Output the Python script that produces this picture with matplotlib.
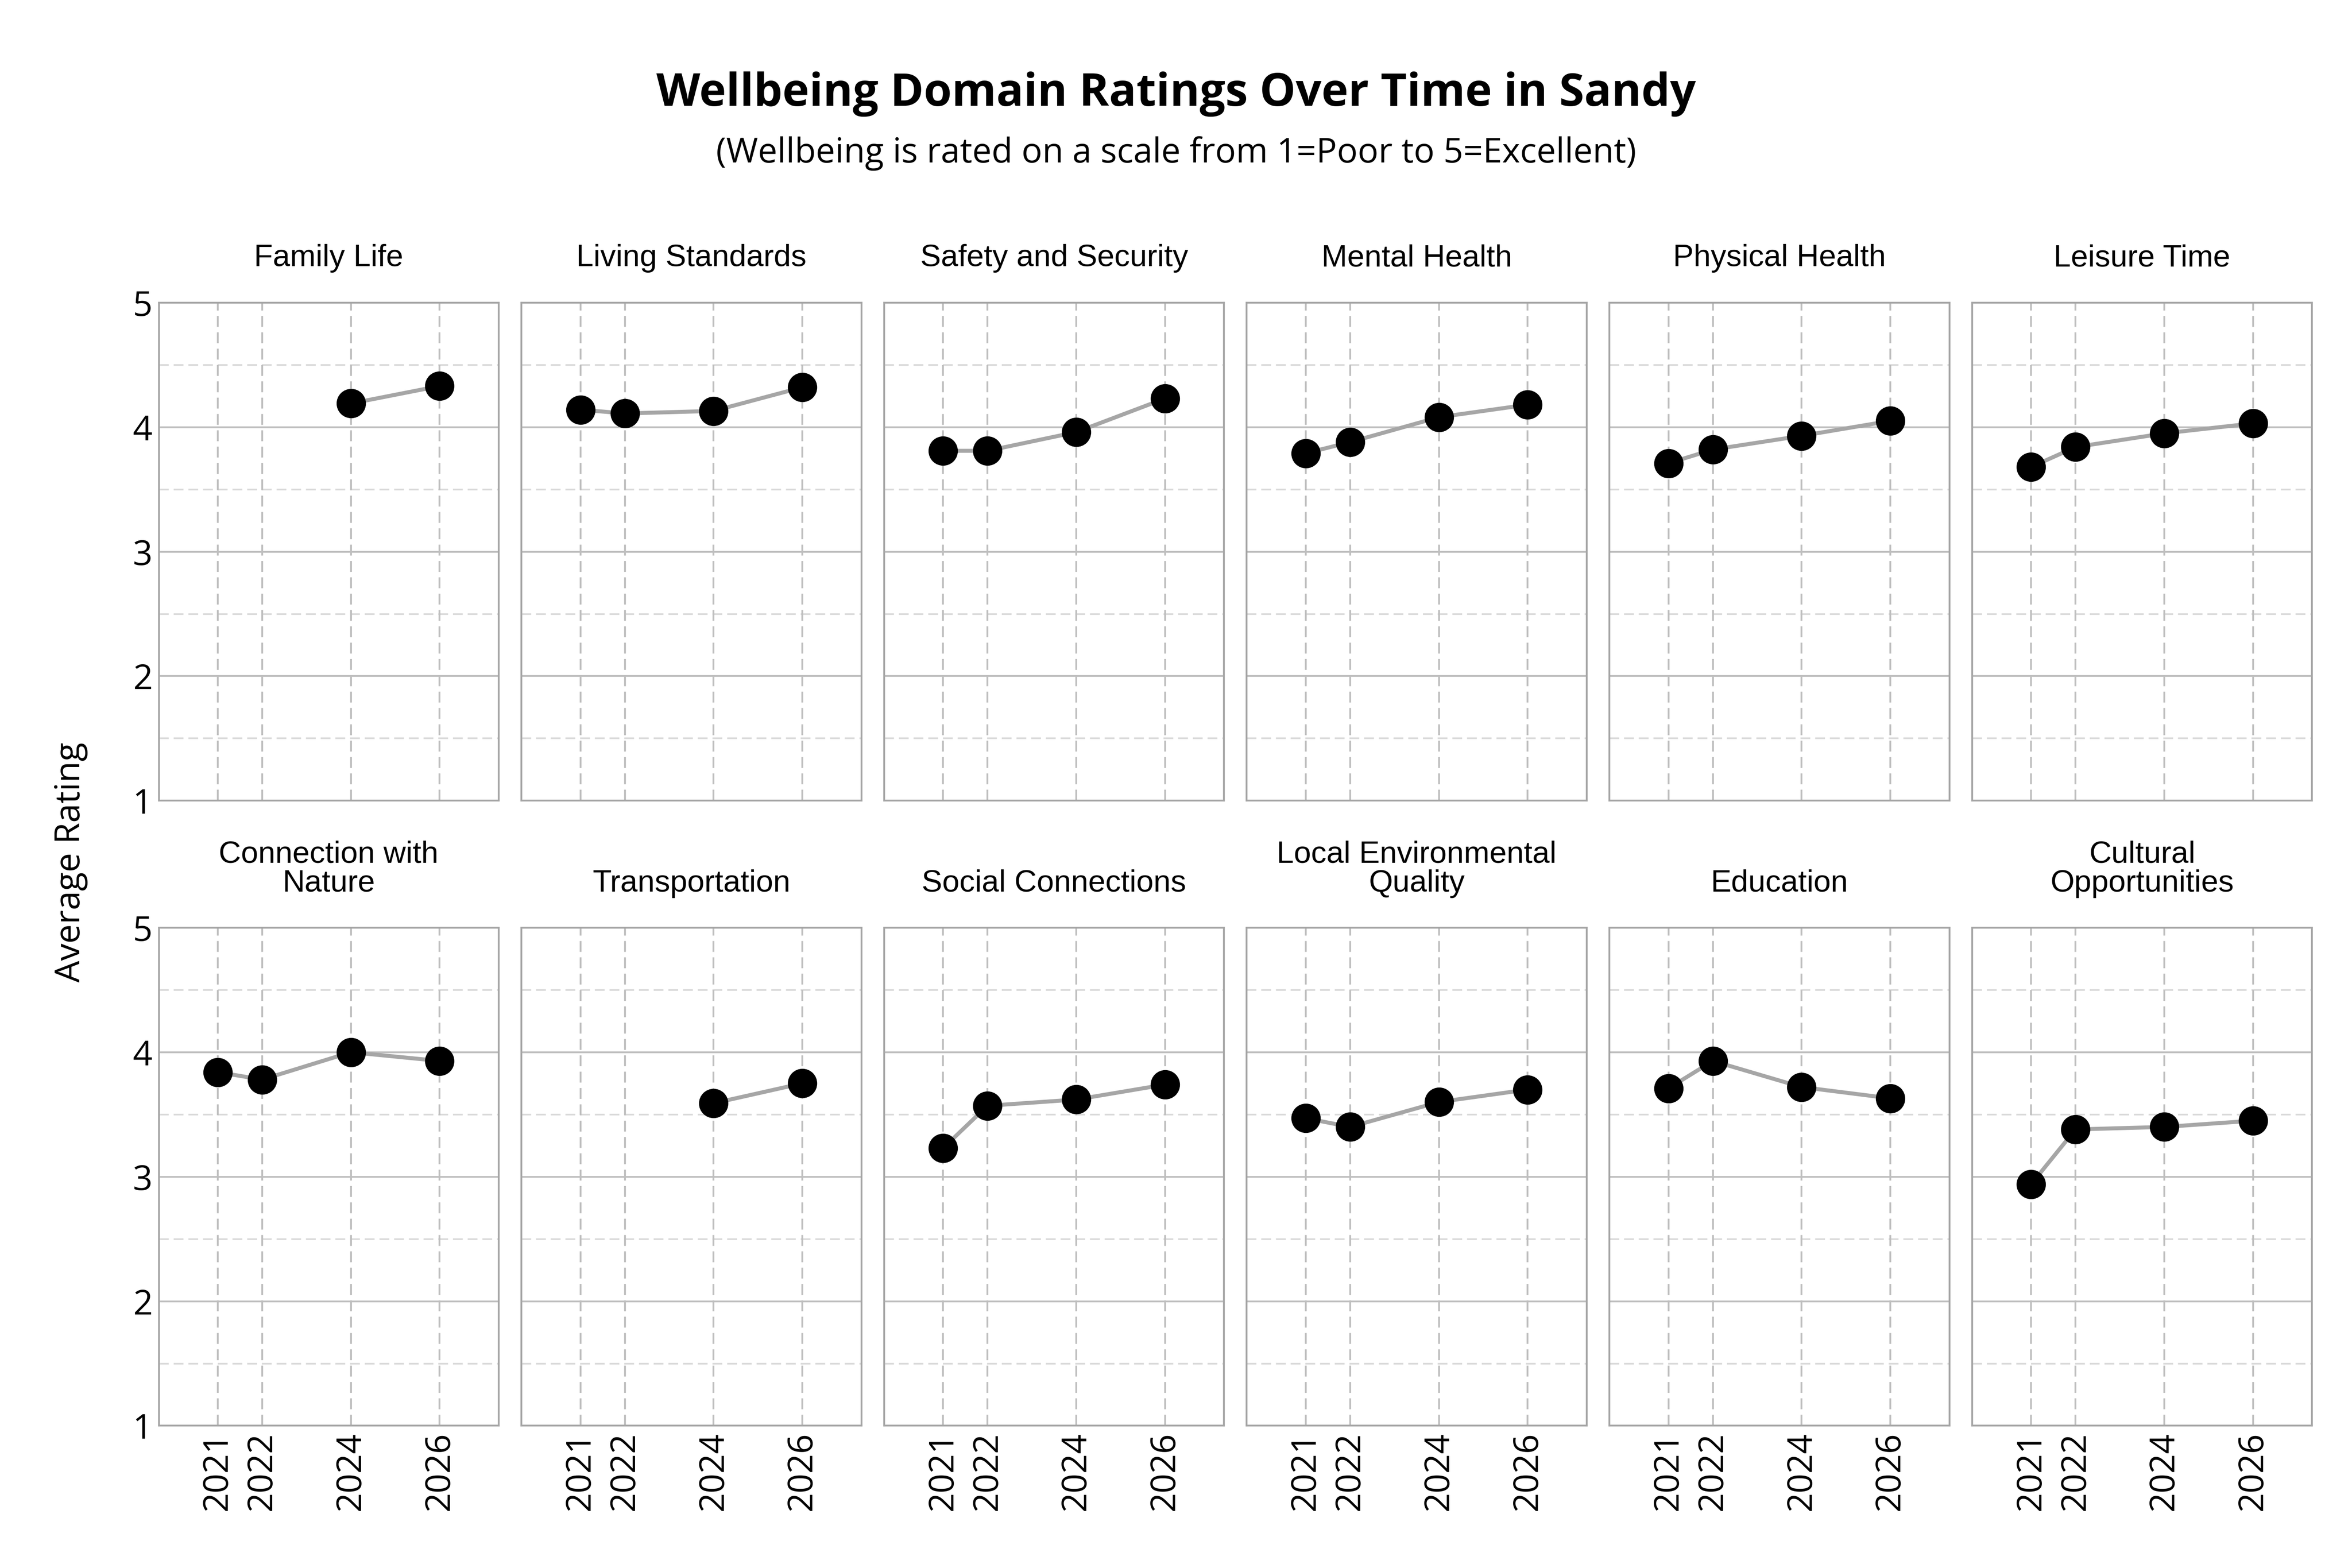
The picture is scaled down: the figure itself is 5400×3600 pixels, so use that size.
import matplotlib
matplotlib.use("Agg")
import matplotlib.pyplot as plt
import numpy as np

domains = ["Family Life", "Living Standards", "Safety and Security", "Mental Health",
           "Physical Health", "Leisure Time", "Connection with\nNature", "Transportation",
           "Social Connections", "Local Environmental\nQuality", "Education", "Cultural\nOpportunities"]
years = [2021, 2022, 2024, 2026]
ratings = [
    [np.nan, np.nan, 4.19, 4.33],
    [4.14, 4.11, 4.13, 4.32],
    [3.81, 3.81, 3.96, 4.23],
    [3.79, 3.88, 4.08, 4.18],
    [3.71, 3.82, 3.93, 4.05],
    [3.68, 3.84, 3.95, 4.03],
    [3.84, 3.78, 4.00, 3.93],
    [np.nan, np.nan, 3.59, 3.75],
    [3.23, 3.57, 3.62, 3.74],
    [3.47, 3.40, 3.60, 3.70],
    [3.71, 3.93, 3.72, 3.63],
    [2.94, 3.38, 3.40, 3.45],
]

fig, axes = plt.subplots(2, 6, figsize=(18, 12), dpi=300)
fig.subplots_adjust(left=0.0675, right=0.983, top=0.807, bottom=0.0907, wspace=0.067, hspace=0.255)

for i, ax in enumerate(axes.flat):
    r = np.array(ratings[i])
    m = ~np.isnan(r)
    yr = np.array(years)[m]
    ax.plot(yr, r[m], color="#a6a6a6", lw=2.2, zorder=2)
    ax.scatter(yr, r[m], s=230, color="black", zorder=3)
    ax.set_xlim(2019.67, 2027.33)
    ax.set_ylim(1, 5)
    ax.set_yticks([1, 2, 3, 4, 5])
    ax.set_xticks(years)
    for y in [2, 3, 4]:
        ax.axhline(y, color="#bfbfbf", lw=1.0, zorder=1)
    for y in [1.5, 2.5, 3.5, 4.5]:
        ax.axhline(y, color="#d9d9d9", lw=0.9, ls=(0, (6, 3)), zorder=1)
    for x in years:
        ax.axvline(x, color="#bfbfbf", lw=1.0, ls=(0, (6, 3)), zorder=1)
    for s in ax.spines.values():
        s.set_color("#a6a6a6")
        s.set_linewidth(1.0)
    ax.tick_params(which="both", length=0)
    ax.set_title(domains[i], fontsize=17, family="Liberation Sans", pad=20, linespacing=1.0)
    if i % 6 == 0:
        ax.set_yticklabels([str(v) for v in [1, 2, 3, 4, 5]], fontsize=19, family="Open Sans")
    else:
        ax.set_yticklabels([])
    if i >= 6:
        ax.set_xticklabels([str(y) for y in years], rotation=90, fontsize=19, family="Open Sans")
    else:
        ax.set_xticklabels([])

fig.text(0.5, 0.940, "Wellbeing Domain Ratings Over Time in Sandy", ha="center", va="center",
         fontsize=25, fontweight="bold", family="Open Sans")
fig.text(0.5, 0.902, "(Wellbeing is rated on a scale from 1=Poor to 5=Excellent)", ha="center",
         va="center", fontsize=19, family="Open Sans")
fig.text(0.030, 0.45, "Average Rating", rotation=90, ha="center", va="center",
         fontsize=19, family="Open Sans")

fig.savefig("out.png", dpi=300)
